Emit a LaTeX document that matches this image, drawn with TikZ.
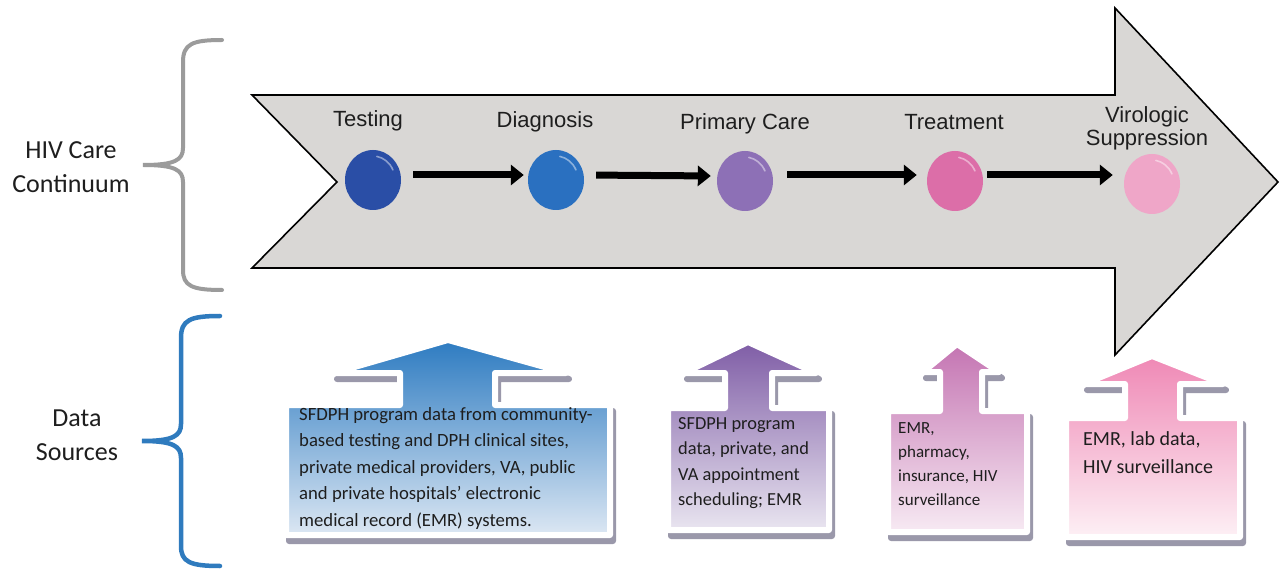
\documentclass[tikz,border=0pt]{standalone}
\usepackage{fontspec}
\setmainfont{Carlito}
\newfontfamily\arialfont{Liberation Sans}
\usetikzlibrary{arrows.meta,shapes.geometric}
\definecolor{arrowgray}{HTML}{D9D7D5}
\definecolor{bracegray}{HTML}{9B9B9B}
\definecolor{braceblue}{HTML}{2F7BBE}
\definecolor{cA}{HTML}{2A4EA6}
\definecolor{cB}{HTML}{2A70C0}
\definecolor{cC}{HTML}{8D70B6}
\definecolor{cD}{HTML}{DC6EA8}
\definecolor{cE}{HTML}{EFA6C8}
\definecolor{shadowc}{HTML}{9A98AA}
\definecolor{txt}{HTML}{1E1E1E}
\definecolor{blueT}{HTML}{2D7BC1}
\definecolor{blueB}{HTML}{DCE7F3}
\definecolor{purT}{HTML}{7F5DA6}
\definecolor{purB}{HTML}{E9E5F0}
\definecolor{mauT}{HTML}{C474B2}
\definecolor{mauB}{HTML}{F7EAF3}
\definecolor{pinT}{HTML}{EF88B5}
\definecolor{pinB}{HTML}{FDF0F5}
\begin{document}
\begin{tikzpicture}[x=1pt,y=-1pt,
  stage/.style={font=\arialfont\fontsize{22}{24}\selectfont, text=txt, inner sep=0pt},
  ball/.style={ellipse, minimum width=56pt, minimum height=60pt, inner sep=0pt},
  flow/.style={line width=7pt, -{Triangle[length=13pt,width=20pt]}},
  side/.style={font=\fontsize{26}{34}\selectfont, align=center, inner sep=0pt, text=txt},
  srctext/.style={align=left, inner sep=0pt, anchor=north west, text=txt},
  wrap/.style={draw=white, line width=6pt, line join=round},
  shade/.style={fill=shadowc, draw=shadowc, line width=6pt, line join=round, xshift=3pt, yshift=-6pt}
]
\useasboundingbox (0,0) rectangle (1280,569);

% braces
\draw[bracegray, line width=4pt, line cap=round]
  (222,40) .. controls (192,40) and (183,44) .. (183,62) -- (183,148)
  .. controls (183,160) and (175,165) .. (143,165)
  .. controls (175,165) and (183,170) .. (183,182) -- (183,270)
  .. controls (183,286) and (192,290) .. (222,290);
\draw[braceblue, line width=4.5pt, line cap=round]
  (220,316) .. controls (190,316) and (181,320) .. (181,338) -- (181,424)
  .. controls (181,436) and (173,441) .. (142,441)
  .. controls (173,441) and (181,446) .. (181,458) -- (181,546)
  .. controls (181,562) and (190,566) .. (220,566);

\node[side, anchor=north] (hiv) at (71,141) {HIV Care\\Continuum};
\node[side, anchor=north] (ds) at (77,410) {Data\\Sources};

% big arrow
\filldraw[fill=arrowgray, draw=black, line width=1.6pt, line join=miter]
  (252,95) -- (1115,95) -- (1115,8) -- (1278,182) -- (1115,355) -- (1115,268) -- (252,268) -- (337,182) -- cycle;

% stages
\node[ball, fill=cA] (t1) at (373,180) {};
\node[ball, fill=cB] (t2) at (556,180) {};
\node[ball, fill=cC] (t3) at (745,181) {};
\node[ball, fill=cD] (t4) at (955,181) {};
\node[ball, fill=cE] (t5) at (1152,184) {};
\foreach \n in {t1,t2,t3,t4,t5}{
  \draw[white, opacity=.45, line width=1.6pt, line cap=round]
    ([shift={(3.8,-23.6)}]\n.center) arc[start angle=-80, end angle=-25, x radius=22, y radius=24];
}
\node[stage, anchor=base] (l1) at (368,127) {Testing};
\node[stage, anchor=base] (l2) at (545,128) {Diagnosis};
\node[stage, anchor=base] (l3) at (745,130) {Primary Care};
\node[stage, anchor=base] (l4) at (954,130) {Treatment};
\node[stage, anchor=north, align=center, font=\arialfont\fontsize{22}{23}\selectfont] (l5) at (1147,106) {Virologic\\Suppression};

\draw[flow, shorten <=12pt, shorten >=4pt] ([yshift=5pt]t1.east) -- ([yshift=5pt]t2.west);
\draw[flow, shorten <=12pt, shorten >=6pt] ([yshift=5pt]t2.east) -- ([yshift=5pt]t3.west);
\draw[flow, shorten <=14pt, shorten >=10pt] ([yshift=6pt]t3.east) -- ([yshift=6pt]t4.west);
\draw[flow, shorten <=4pt, shorten >=11pt] ([yshift=6pt]t4.east) -- ([yshift=9pt]t5.west);

% data source callouts
\def\boxA{(286,535) -- (286,405) -- (400,405) -- (400,373) -- (334,373) -- (448,340) -- (566,373) -- (495,373) -- (495,405) -- (610,405) -- (610,535) -- cycle}
\def\boxB{(668,530) -- (668,408) -- (725,408) -- (725,373) -- (684,373) -- (748,342) -- (816,373) -- (772,373) -- (772,408) -- (829,408) -- (829,530) -- cycle}
\def\boxC{(888,532) -- (888,411) -- (940,411) -- (940,372) -- (923,372) -- (957,344) -- (999,372) -- (982,372) -- (982,411) -- (1027,411) -- (1027,532) -- cycle}
\def\boxD{(1066,537) -- (1066,418) -- (1125,418) -- (1125,384) -- (1084,384) -- (1152,356) -- (1223,384) -- (1180,384) -- (1180,418) -- (1240,418) -- (1240,537) -- cycle}

\filldraw[shade] \boxA;
\path[wrap, top color=blueT, bottom color=blueB] \boxA;
\filldraw[shade] \boxB;
\path[wrap, top color=purT, bottom color=purB] \boxB;
\filldraw[shade] \boxC;
\path[wrap, top color=mauT, bottom color=mauB] \boxC;
\filldraw[shade] \boxD;
\path[wrap, top color=pinT, bottom color=pinB] \boxD;

\node[srctext, font=\fontsize{18.7}{26.5}\selectfont] (s1) at (299,407) {SFDPH program data from community-\\based testing and DPH clinical sites,\\private medical providers, VA, public\\and private hospitals’ electronic\\medical record (EMR) systems.};
\node[srctext, font=\fontsize{18.4}{25.5}\selectfont] (s2) at (678,417) {SFDPH program\\data, private, and\\VA appointment\\scheduling; EMR};
\node[srctext, font=\fontsize{17}{24}\selectfont] (s3) at (898,422) {EMR,\\pharmacy,\\insurance, HIV\\surveillance};
\node[srctext, font=\fontsize{20}{28}\selectfont] (s4) at (1083,431) {EMR, lab data,\\HIV surveillance};
\end{tikzpicture}
\end{document}
